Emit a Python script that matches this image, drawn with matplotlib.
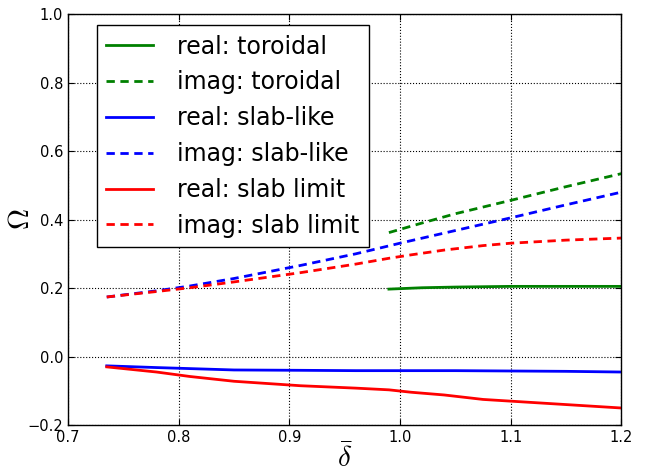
import numpy as np
import matplotlib
matplotlib.use('Agg')
from matplotlib import pyplot as plt

plt.rcParams['mathtext.fontset'] = 'cm'

# toroidal branch (only exists for delta >= ~0.99)
x_tor = [0.99, 1.02, 1.05, 1.1, 1.15, 1.2]
real_tor = [0.197, 0.201, 0.203, 0.205, 0.205, 0.205]
imag_tor = [0.362, 0.39, 0.417, 0.456, 0.496, 0.534]

# slab-like branch
x_slab = [0.735, 0.78, 0.81, 0.85, 0.91, 0.96, 1.0, 1.05, 1.1, 1.15, 1.2]
real_slab = [-0.027, -0.032, -0.035, -0.039, -0.040, -0.041, -0.041, -0.041, -0.042, -0.043, -0.045]
imag_slab = [0.174, 0.192, 0.206, 0.228, 0.266, 0.300, 0.331, 0.368, 0.405, 0.443, 0.480]

# slab limit
x_lim = [0.735, 0.78, 0.81, 0.85, 0.91, 0.96, 0.99, 1.01, 1.04, 1.075, 1.1, 1.15, 1.2]
real_lim = [-0.030, -0.045, -0.058, -0.072, -0.085, -0.092, -0.097, -0.104, -0.112, -0.125, -0.130, -0.140, -0.150]
imag_lim = [0.174, 0.190, 0.201, 0.218, 0.245, 0.270, 0.287, 0.297, 0.311, 0.324, 0.331, 0.340, 0.346]

fig = plt.figure(figsize=(6.54, 4.75), dpi=100)
ax = fig.add_axes([0.104, 0.105, 0.846, 0.8655])

lw = 2.0
ax.plot(x_tor, real_tor, color=(0, 0.5, 0), lw=lw, label='real: toroidal')
ax.plot(x_tor, imag_tor, color=(0, 0.5, 0), lw=lw, dashes=(3, 2), label='imag: toroidal')
ax.plot(x_slab, real_slab, color='b', lw=lw, label='real: slab-like')
ax.plot(x_slab, imag_slab, color='b', lw=lw, dashes=(3, 2), label='imag: slab-like')
ax.plot(x_lim, real_lim, color='r', lw=lw, label='real: slab limit')
ax.plot(x_lim, imag_lim, color='r', lw=lw, dashes=(3, 2), label='imag: slab limit')

ax.set_xlim(0.7, 1.2)
ax.set_ylim(-0.2, 1.0)
ax.set_xticks(np.arange(0.7, 1.21, 0.1))
ax.set_yticks(np.arange(-0.2, 1.01, 0.2))
ax.tick_params(direction='in', top=True, right=True, labelsize=10.5, length=4)
ax.grid(True, color='k', linestyle=':', linewidth=0.8)
for s in ax.spines.values():
  s.set_linewidth(1.0)

ax.set_xlabel(r'$\bar{\delta}$', fontsize=21)
ax.set_ylabel(r'$\Omega$', fontsize=21)
ax.xaxis.set_label_coords(0.5, -0.045)
ax.yaxis.set_label_coords(-0.06, 0.5)

leg = ax.legend(loc='upper left', bbox_to_anchor=(0.052, 0.973), borderaxespad=0,
                fontsize=17, fancybox=False, edgecolor='k', framealpha=1,
                handlelength=2.0, handletextpad=1.0, labelspacing=0.5)
leg.get_frame().set_linewidth(1.0)

plt.savefig('out.png', dpi=100)
